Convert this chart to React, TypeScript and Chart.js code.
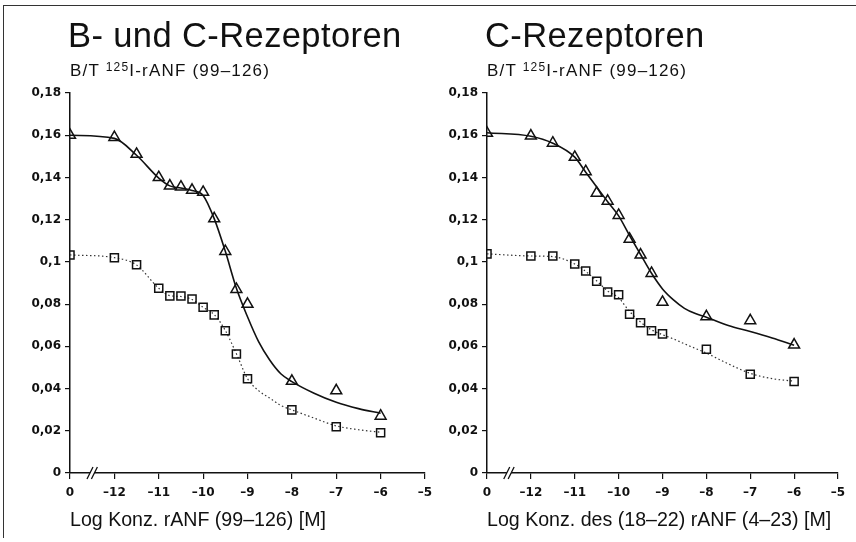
import React, { useEffect, useRef } from 'react';
import { Chart, registerables } from 'chart.js';

Chart.register(...registerables);

// x axis: "0" = control (no competitor), then log concentrations with an axis break
const xTickLabels = ['0', '–12', '–11', '–10', '–9', '–8', '–7', '–6', '–5'];

// log concentrations of the measured points (0 = control)
const concentrations = [0, -12, -11.5, -11, -10.75, -10.5, -10.25, -10, -9.75, -9.5, -9.25, -9, -8, -7, -6];

// Left panel: B- und C-Rezeptoren
const leftTriangles = [0.160, 0.159, 0.151, 0.140, 0.136, 0.1355, 0.134, 0.133, 0.1205, 0.105, 0.087, 0.080, 0.0435, 0.039, 0.027];
const leftSquares = [0.1033, 0.102, 0.0986, 0.0875, 0.0839, 0.0838, 0.0824, 0.0785, 0.0749, 0.0674, 0.0564, 0.0446, 0.0299, 0.0219, 0.0191];

// Right panel: C-Rezeptoren
const rightTriangles = [0.161, 0.1597, 0.1563, 0.1496, 0.1428, 0.1326, 0.1288, 0.1221, 0.1108, 0.1033, 0.0946, 0.0809, 0.0741, 0.0722, 0.0607];
const rightSquares = [0.1038, 0.1028, 0.1028, 0.099, 0.0957, 0.0908, 0.0857, 0.0844, 0.0752, 0.0712, 0.0674, 0.0659, 0.0586, 0.0468, 0.0433];

// fitted curves
const fitConcentrations = [0, -12, -11.5, -11, -10.75, -10.5, -10.25, -10, -9.75, -9.5, -9.25, -9, -8.75, -8.5, -8.25, -8, -7.5, -7, -6.5, -6];
const leftTriangleFit = [0.160, 0.1585, 0.1505, 0.1397, 0.136, 0.135, 0.1338, 0.1315, 0.1205, 0.105, 0.0875, 0.074, 0.0622, 0.0535, 0.047, 0.0433, 0.0378, 0.0335, 0.0305, 0.0283];
const leftSquareFit = [0.1033, 0.102, 0.0985, 0.0875, 0.084, 0.0836, 0.0822, 0.0785, 0.075, 0.0675, 0.0565, 0.0447, 0.039, 0.0355, 0.032, 0.0299, 0.026, 0.0223, 0.0205, 0.0193];
const rightTriangleFit = [0.1612, 0.1595, 0.1562, 0.1496, 0.1425, 0.1355, 0.1285, 0.1218, 0.1125, 0.1035, 0.0946, 0.0872, 0.082, 0.078, 0.0755, 0.0738, 0.0699, 0.067, 0.0639, 0.0605];
const rightSquareFit = [0.1038, 0.1028, 0.1025, 0.099, 0.0955, 0.091, 0.0862, 0.083, 0.0765, 0.0715, 0.0678, 0.0655, 0.0635, 0.0612, 0.059, 0.0568, 0.0517, 0.0472, 0.0447, 0.0435];

const INK = '#111';

const toAxis = (c: number) => (c === 0 ? 0 : c + 13);
const points = (xs: number[], ys: number[]) => xs.map((x, i) => ({ x: toAxis(x), y: ys[i] }));

const formatY = (v: number) => {
  const n = Math.round(v * 100) / 100;
  return n === 0 ? '0' : String(n).replace('.', ',');
};

const breakMark = {
  id: 'breakMark',
  afterDraw(chart: any) {
    const { ctx } = chart;
    const cx = chart.scales.x.getPixelForValue(0.5);
    const cy = chart.scales.y.getPixelForValue(0);
    ctx.save();
    const h = 6;
    const s = 3;
    const gap = 2.2;
    ctx.beginPath();
    ctx.moveTo(cx - gap - s, cy + h);
    ctx.lineTo(cx - gap + s, cy - h);
    ctx.lineTo(cx + gap + s, cy - h);
    ctx.lineTo(cx + gap - s, cy + h);
    ctx.closePath();
    ctx.fillStyle = '#fff';
    ctx.fill();
    ctx.strokeStyle = INK;
    ctx.lineWidth = 1.3;
    ctx.beginPath();
    ctx.moveTo(cx - gap - s, cy + h);
    ctx.lineTo(cx - gap + s, cy - h);
    ctx.moveTo(cx + gap - s, cy + h);
    ctx.lineTo(cx + gap + s, cy - h);
    ctx.stroke();
    ctx.restore();
  },
};

type PanelProps = {
  left: number;
  width: number;
  yWidth: number;
  padRight: number;
  xTitle: string;
  tri: number[];
  sq: number[];
  triFit: number[];
  sqFit: number[];
};

function Panel({ left, width, yWidth, padRight, xTitle, tri, sq, triFit, sqFit }: PanelProps) {
  const ref = useRef<HTMLCanvasElement | null>(null);
  useEffect(() => {
    if (!ref.current) return;
    const tickFont = { family: 'DejaVu Sans', weight: 'bold' as const, size: 12 };
    const chart = new Chart(ref.current, {
      type: 'scatter',
      data: {
        datasets: [
          {
            data: points(concentrations, tri),
            pointStyle: 'triangle',
            pointRadius: 6.3,
            pointBorderWidth: 1.5,
            pointBorderColor: INK,
            pointBackgroundColor: 'rgba(0,0,0,0)',
            showLine: false,
            order: 0,
          },
          {
            data: points(concentrations, sq),
            pointStyle: 'rect',
            pointRadius: 5.7,
            pointBorderWidth: 1.5,
            pointBorderColor: INK,
            pointBackgroundColor: 'rgba(0,0,0,0)',
            showLine: false,
            order: 0,
          },
          {
            data: points(fitConcentrations, triFit),
            showLine: true,
            pointRadius: 0,
            borderColor: INK,
            borderWidth: 1.6,
            cubicInterpolationMode: 'monotone',
            order: 1,
          },
          {
            data: points(fitConcentrations, sqFit),
            showLine: true,
            pointRadius: 0,
            borderColor: '#333',
            borderWidth: 1.2,
            borderDash: [1.5, 2.5],
            cubicInterpolationMode: 'monotone',
            order: 1,
          },
        ],
      } as any,
      options: {
        responsive: false,
        animation: false,
        events: [],
        layout: { padding: { top: 93, left: 0, right: padRight, bottom: 0 } },
        plugins: { legend: { display: false }, tooltip: { enabled: false } },
        scales: {
          x: {
            type: 'linear',
            min: 0,
            max: 8,
            afterFit: (s: any) => {
              s.height = 69;
            },
            ticks: {
              stepSize: 1,
              autoSkip: false,
              maxRotation: 0,
              padding: 7,
              color: INK,
              font: tickFont,
              callback: (v: any) => xTickLabels[Math.round(Number(v))] ?? '',
            },
            grid: { drawOnChartArea: false, drawTicks: true, tickLength: 6, color: INK, lineWidth: 1.2 },
            border: { display: true, color: INK, width: 1.5 },
            title: {
              display: true,
              text: xTitle,
              align: 'start',
              color: INK,
              font: { family: 'Liberation Sans', size: 19.6, weight: 'normal' },
              padding: { top: 0, bottom: 10 },
            },
          },
          y: {
            type: 'linear',
            min: 0,
            max: 0.18,
            afterFit: (s: any) => {
              s.width = yWidth;
            },
            ticks: {
              stepSize: 0.02,
              padding: 4,
              color: INK,
              font: tickFont,
              callback: (v: any) => formatY(Number(v)),
            },
            grid: { drawOnChartArea: false, drawTicks: true, tickLength: 5, color: INK, lineWidth: 1.2 },
            border: { display: true, color: INK, width: 1.5 },
          },
        },
      } as any,
      plugins: [breakMark],
    });
    return () => chart.destroy();
  }, []);
  return (
    <canvas
      ref={ref}
      width={width}
      height={542}
      style={{ position: 'absolute', left, top: 0, width, height: 542 }}
    />
  );
}

const textBase: React.CSSProperties = {
  position: 'absolute',
  fontFamily: '"Liberation Sans", Arial, sans-serif',
  color: INK,
  lineHeight: 1,
  whiteSpace: 'nowrap',
};

function Titles({ left, title }: { left: number; title: string }) {
  return (
    <>
      <div style={{ ...textBase, left: left - 2, top: 17.5, fontSize: 34.5, letterSpacing: 0.4 }}>{title}</div>
      <div style={{ ...textBase, left, top: 61.5, fontSize: 17, letterSpacing: 1.2 }}>
        B/T <span style={{ fontSize: 12, position: 'relative', top: -5 }}>125</span>I-rANF (99–126)
      </div>
    </>
  );
}

export default function App() {
  return (
    <div
      style={{
        position: 'absolute',
        left: 0,
        top: 0,
        width: 856,
        height: 542,
        background: '#fff',
        overflow: 'hidden',
      }}
    >
      <div
        style={{
          position: 'absolute',
          left: 3,
          top: 5,
          width: 860,
          height: 532,
          borderTop: '1.5px solid #333',
          borderLeft: '1.5px solid #333',
        }}
      />
      <Panel
        left={0}
        width={445}
        yWidth={70}
        padRight={20}
        xTitle="Log Konz. rANF (99–126) [M]"
        tri={leftTriangles}
        sq={leftSquares}
        triFit={leftTriangleFit}
        sqFit={leftSquareFit}
      />
      <Panel
        left={428}
        width={428}
        yWidth={59}
        padRight={18}
        xTitle="Log Konz. des (18–22) rANF (4–23) [M]"
        tri={rightTriangles}
        sq={rightSquares}
        triFit={rightTriangleFit}
        sqFit={rightSquareFit}
      />
      <Titles left={70} title="B- und C-Rezeptoren" />
      <Titles left={487} title="C-Rezeptoren" />
    </div>
  );
}
